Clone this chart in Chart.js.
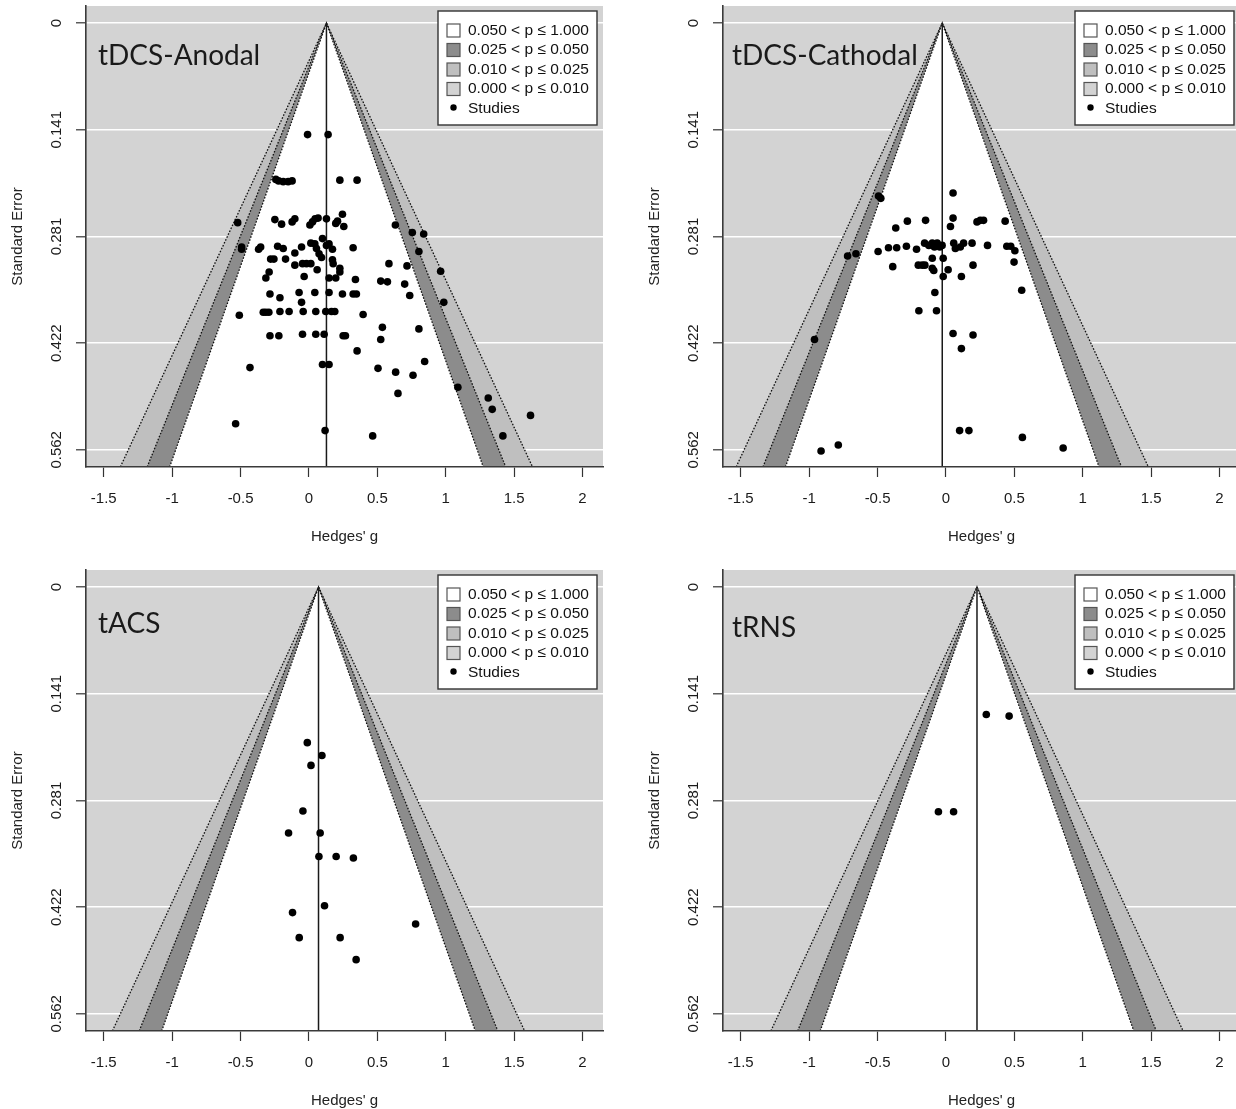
<!DOCTYPE html>
<html lang="en">
<head>
<meta charset="UTF-8">
<title>Contour-enhanced funnel plots</title>
<script src="https://cdn.jsdelivr.net/npm/chart.js"></script>
<style>
    body {
        margin: 0;
        width: 1236px;
        height: 1109px;
        overflow: hidden;
        background: #fff;
        position: relative;
    }
    canvas { position: absolute; }
</style>
</head>
<body>
<canvas id="anodal" width="620" height="560" style="left:0;top:0"></canvas>
<canvas id="cathodal" width="620" height="560" style="left:637px;top:0"></canvas>
<canvas id="tacs" width="620" height="560" style="left:0;top:564px"></canvas>
<canvas id="trns" width="620" height="560" style="left:637px;top:564px"></canvas>
<script>
// axes
var gRange = [-1.63, 2.15];
var seRange = [-0.0225, 0.585];
var gTicks = [-1.5, -1, -0.5, 0, 0.5, 1, 1.5, 2];
var gTickLabels = ['-1.5', '-1', '-0.5', '0', '0.5', '1', '1.5', '2'];
var seTicks = [0, 0.1406, 0.2812, 0.4218, 0.5624];
var seTickLabels = ['0', '0.141', '0.281', '0.422', '0.562'];

// contours: z for two-sided p = .05, .025, .01
var contourZ = [1.96, 2.241, 2.576];
var legendLabels = ['0.050 < p \u2264 1.000', '0.025 < p \u2264 0.050', '0.010 < p \u2264 0.025', '0.000 < p \u2264 0.010', 'Studies'];

// pooled estimates (vertical line / funnel apex)
var pooled = { anodal: 0.128, cathodal: -0.027, tacs: 0.070, trns: 0.227 };

// tDCS-Anodal
var anodalG = [
    -0.010, 0.140,
    -0.242, -0.222, -0.188, -0.152, -0.123, 0.226, 0.352,
    -0.521, -0.249, -0.200, -0.123, -0.103, 0.007, 0.026, 0.045, 0.067, 0.128, 0.196, 0.209, 0.245, 0.255, 0.632, 0.756, 0.839,
    -0.492, -0.492, -0.368, -0.353, -0.229, -0.188, -0.103, -0.054, 0.014, 0.043, 0.055, 0.074, 0.092, 0.099, 0.128, 0.147, 0.172, 0.323, 0.804,
    -0.280, -0.256, -0.171, -0.103, -0.047, -0.018, 0.014, 0.060, 0.172, 0.177, 0.226, 0.226, 0.585, 0.717, 0.963,
    -0.291, -0.315, -0.035, 0.147, 0.196, 0.340, 0.525, 0.574, 0.700,
    -0.285, -0.212, -0.072, -0.054, 0.043, 0.147, 0.245, 0.323, 0.347, 0.737, 0.986,
    -0.509, -0.334, -0.315, -0.293, -0.212, -0.145, -0.042, 0.050, 0.123, 0.165, 0.189, 0.396,
    -0.285, -0.220, -0.047, 0.050, 0.111, 0.250, 0.267, 0.537, 0.525, 0.804,
    0.352, -0.431, 0.099, 0.147, 0.505, 0.634, 0.761, 0.846, 0.651, 1.089, 1.311, 1.340, 1.620, 1.418, -0.536, 0.118, 0.466
];
var anodalSE = [
    0.147, 0.147,
    0.206, 0.208, 0.209, 0.209, 0.208, 0.207, 0.207,
    0.263, 0.259, 0.265, 0.262, 0.258, 0.266, 0.262, 0.258, 0.257, 0.258, 0.264, 0.261, 0.252, 0.268, 0.266, 0.276, 0.278,
    0.295, 0.298, 0.298, 0.295, 0.294, 0.297, 0.303, 0.295, 0.290, 0.291, 0.297, 0.304, 0.309, 0.284, 0.293, 0.291, 0.298, 0.296, 0.301,
    0.311, 0.311, 0.311, 0.319, 0.317, 0.317, 0.317, 0.325, 0.312, 0.317, 0.323, 0.328, 0.317, 0.320, 0.327,
    0.328, 0.336, 0.334, 0.336, 0.336, 0.338, 0.340, 0.341, 0.344,
    0.357, 0.362, 0.355, 0.368, 0.355, 0.355, 0.357, 0.357, 0.357, 0.359, 0.368,
    0.385, 0.381, 0.381, 0.381, 0.380, 0.380, 0.380, 0.380, 0.380, 0.380, 0.380, 0.384,
    0.412, 0.412, 0.410, 0.410, 0.410, 0.412, 0.412, 0.401, 0.417, 0.403,
    0.432, 0.454, 0.450, 0.450, 0.455, 0.460, 0.464, 0.446, 0.488, 0.480, 0.494, 0.509, 0.517, 0.544, 0.528, 0.537, 0.544
];

// tDCS-Cathodal
var cathodalG = [
    -0.493, -0.476, 0.052, -0.282, -0.149, -0.367, 0.052, 0.033, 0.227, 0.251, 0.275, 0.433,
    -0.719, -0.658, -0.496, -0.420, -0.360, -0.289, -0.215, -0.156, -0.125, -0.100, -0.084, -0.064, -0.045, -0.028,
    0.057, 0.069, 0.105, 0.129, 0.191, 0.304, 0.445, 0.474, 0.504, 0.498,
    -0.100, -0.020, -0.389, -0.202, -0.173, -0.154, -0.100, -0.089, 0.016, 0.198, -0.020, 0.113, 0.554,
    -0.081, -0.198, -0.069, -0.961, 0.052, 0.198, 0.113, 0.100, 0.168, 0.559, -0.913, -0.787, 0.857
];
var cathodalSE = [
    0.228, 0.231, 0.224, 0.261, 0.260, 0.270, 0.257, 0.268, 0.262, 0.260, 0.260, 0.261,
    0.307, 0.304, 0.301, 0.296, 0.296, 0.294, 0.298, 0.290, 0.293, 0.290, 0.295, 0.290, 0.295, 0.293,
    0.290, 0.297, 0.295, 0.290, 0.290, 0.293, 0.294, 0.294, 0.300, 0.315,
    0.310, 0.310, 0.321, 0.319, 0.319, 0.319, 0.323, 0.326, 0.325, 0.319, 0.334, 0.334, 0.352,
    0.355, 0.379, 0.379, 0.417, 0.409, 0.411, 0.429, 0.537, 0.537, 0.546, 0.564, 0.556, 0.560
];

// tACS
var tacsG = [-0.012, 0.095, 0.015, -0.044, -0.149, 0.082, 0.073, 0.199, 0.325, 0.114, -0.120, 0.780, -0.071, 0.228, 0.345];
var tacsSE = [0.205, 0.222, 0.235, 0.295, 0.324, 0.324, 0.355, 0.355, 0.357, 0.420, 0.429, 0.444, 0.462, 0.462, 0.491];

// tRNS
var trnsG = [0.295, 0.462, -0.055, 0.056];
var trnsSE = [0.168, 0.170, 0.296, 0.296];

var FONT = "'Liberation Sans', Arial, sans-serif";
var shades = ['#ffffff', '#8c8c8c', '#bfbfbf', '#d3d3d3'];

// gray plot background, rotated y labels, legend and panel name
var funnelDeco = {
    id: 'funnelDeco',
    beforeDraw: function(chart) {
        var a = chart.chartArea, ctx = chart.ctx;
        ctx.save();
        ctx.fillStyle = shades[3];
        ctx.fillRect(a.left, a.top, a.right - a.left, a.bottom - a.top);
        ctx.restore();
    },
    afterDraw: function(chart, args, opts) {
        var a = chart.chartArea, ctx = chart.ctx, ys = chart.scales.y;
        ctx.save();

        // y tick labels, R style (perpendicular)
        ctx.fillStyle = '#1a1a1a';
        ctx.font = '15px ' + FONT;
        ctx.textAlign = 'center';
        ctx.textBaseline = 'middle';
        ys.ticks.forEach(function(t, i) {
            ctx.save();
            ctx.translate(a.left - 29, ys.getPixelForValue(t.value));
            ctx.rotate(-Math.PI / 2);
            ctx.fillText(seTickLabels[i], 0, 0);
            ctx.restore();
        });

        // legend
        var lw = 159, lh = 114;
        var lx = a.right - 6 - lw, ly = a.top + 5;
        ctx.fillStyle = '#fff';
        ctx.fillRect(lx, ly, lw, lh);
        ctx.strokeStyle = '#333';
        ctx.lineWidth = 1.4;
        ctx.strokeRect(lx, ly, lw, lh);
        ctx.font = '15.5px ' + FONT;
        ctx.textAlign = 'left';
        legendLabels.forEach(function(lab, i) {
            var y = ly + 19.5 * (i + 1);
            if (i < 4) {
                ctx.fillStyle = shades[i];
                ctx.fillRect(lx + 9, y - 6.5, 13, 13);
                ctx.strokeStyle = '#555';
                ctx.lineWidth = 1.2;
                ctx.strokeRect(lx + 9, y - 6.5, 13, 13);
            } else {
                ctx.fillStyle = '#000';
                ctx.beginPath();
                ctx.arc(lx + 15.5, y - 1, 3.2, 0, Math.PI * 2);
                ctx.fill();
            }
            ctx.fillStyle = '#111';
            ctx.fillText(lab, lx + 30, y);
        });

        // panel name
        ctx.fillStyle = '#1a1a1a';
        ctx.font = '28px Lato, ' + FONT;
        ctx.textBaseline = 'alphabetic';
        ctx.fillText(opts.name, a.left + opts.dx, a.top + opts.dy);
        ctx.restore();
    }
};

function funnelChart(id, name, est, g, se, dx, dy) {
    var yMax = seRange[1];
    var band = function(z) {
        return [{ x: est - z * yMax, y: yMax }, { x: est, y: 0 }, { x: est + z * yMax, y: yMax }];
    };
    var contour = function(z, color, order) {
        return {
            type: 'line', data: band(z), order: order,
            fill: { value: yMax }, backgroundColor: color,
            borderColor: '#111', borderWidth: 1.3, borderDash: [1.6, 1.6],
            pointRadius: 0, tension: 0
        };
    };
    var axisFont = { family: FONT, size: 15 };

    return new Chart(document.getElementById(id), {
        type: 'scatter',
        data: {
            datasets: [
                {
                    data: g.map(function(v, i) { return { x: v, y: se[i] }; }),
                    order: 0, pointRadius: 3.8, pointBackgroundColor: '#000', pointBorderWidth: 0
                },
                {
                    type: 'line', order: 1,
                    data: [{ x: est, y: 0 }, { x: est, y: yMax }],
                    borderColor: '#1a1a1a', borderWidth: 1.5, pointRadius: 0
                },
                contour(contourZ[0], shades[0], 2),
                contour(contourZ[1], shades[1], 3),
                contour(contourZ[2], shades[2], 4)
            ]
        },
        options: {
            responsive: false,
            animation: false,
            events: [],
            layout: { padding: { top: 6, right: 17, left: 0, bottom: 0 } },
            plugins: {
                legend: { display: false },
                tooltip: { enabled: false },
                funnelDeco: { name: name, dx: dx, dy: dy }
            },
            scales: {
                x: {
                    type: 'linear', min: gRange[0], max: gRange[1],
                    afterBuildTicks: function(s) { s.ticks = gTicks.map(function(v) { return { value: v }; }); },
                    afterFit: function(s) { s.height = 93; },
                    ticks: {
                        callback: function(v, i) { return gTickLabels[i]; },
                        color: '#1a1a1a', font: axisFont, padding: 13, maxRotation: 0, autoSkip: false
                    },
                    grid: { drawOnChartArea: false, tickLength: 10, tickColor: '#333', tickWidth: 1.2 },
                    border: { color: '#3a3a3a', width: 1.6, z: 1 },
                    title: { display: true, text: "Hedges' g", color: '#222', font: axisFont, padding: { top: 0, bottom: 14 } }
                },
                y: {
                    type: 'linear', reverse: true, min: seRange[0], max: seRange[1],
                    afterBuildTicks: function(s) { s.ticks = seTicks.map(function(v) { return { value: v }; }); },
                    afterFit: function(s) { s.width = 86; },
                    ticks: { display: false },
                    grid: { color: '#ffffff', lineWidth: 1.6, tickLength: 10, tickColor: '#333', tickWidth: 1.2 },
                    border: { color: '#3a3a3a', width: 1.6, z: 1 },
                    title: { display: true, text: 'Standard Error', color: '#222', font: axisFont, padding: { top: 9, bottom: 0 } }
                }
            }
        },
        plugins: [funnelDeco]
    });
}

funnelChart('anodal', 'tDCS-Anodal', pooled.anodal, anodalG, anodalSE, 12, 59);
funnelChart('cathodal', 'tDCS-Cathodal', pooled.cathodal, cathodalG, cathodalSE, 9, 59);
funnelChart('tacs', 'tACS', pooled.tacs, tacsG, tacsSE, 12, 63);
funnelChart('trns', 'tRNS', pooled.trns, trnsG, trnsSE, 9, 67);
</script>
</body>
</html>
